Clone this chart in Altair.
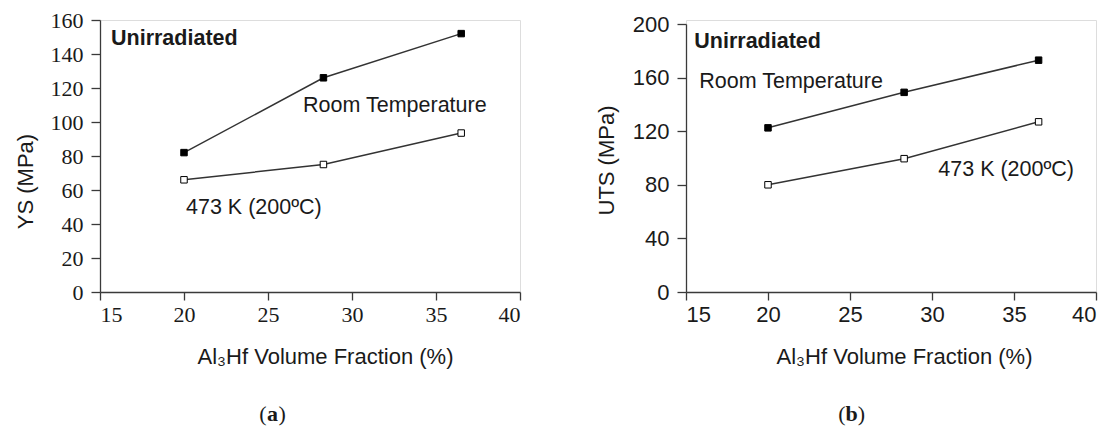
import altair as alt
import pandas as pd

# ---- data ----
vol_frac = [20, 28.3, 36.5]
ys_room = [82, 126, 152]
ys_473 = [66, 75, 93.5]
uts_room = [122.5, 149, 173]
uts_473 = [80, 99.5, 127]
series_names = ["Room Temperature", "473 K (200ºC)"]
x_ticks = [15, 20, 25, 30, 35, 40]
ys_ticks = [0, 20, 40, 60, 80, 100, 120, 140, 160]
uts_ticks = [0, 40, 80, 120, 160, 200]

SANS = "Liberation Sans"
SERIF = "Liberation Serif"
AX = "#3a3a3a"
TXT = "#1a1a1a"


def make_df(room, hot):
    rows = []
    for x, v in zip(vol_frac, room):
        rows.append({"x": x, "v": v, "s": series_names[0]})
    for x, v in zip(vol_frac, hot):
        rows.append({"x": x, "v": v, "s": series_names[1]})
    return pd.DataFrame(rows)


def text_layer(label, x, y, font=SANS, size=21.5, weight="normal", align="left"):
    return alt.Chart(pd.DataFrame({"t": [label]})).mark_text(
        font=font, fontSize=size, fontWeight=weight, align=align,
        baseline="alphabetic", color=TXT
    ).encode(x=alt.value(x), y=alt.value(y), text="t:N")


def panel(df, width, y_title, y_domain, y_range, y_ticks, tick_font, title_x_shift,
          ytitle_x, ytitle_y, annots, letter, letter_x):
    xenc = alt.X("x:Q", scale=alt.Scale(domain=[15, 40], nice=False),
                 axis=alt.Axis(values=x_ticks, title="Al₃Hf Volume Fraction (%)",
                               labelFont=tick_font, labelFontSize=22, labelColor=TXT,
                               tickSize=8, labelPadding=4, domainColor=AX, tickColor=AX,
                               domainWidth=1.3, tickWidth=1.3, grid=False,
                               titleFont=SANS, titleFontSize=22, titleFontWeight="normal",
                               titleColor=TXT, titleX=title_x_shift, titleY=71,
                               titleAlign="center", titleBaseline="alphabetic"))
    yenc = alt.Y("v:Q", scale=alt.Scale(domain=y_domain, range=y_range, nice=False),
                 axis=alt.Axis(values=y_ticks, title=y_title,
                               labelFont=tick_font, labelFontSize=22, labelColor=TXT,
                               tickSize=9, labelPadding=8, domainColor=AX, tickColor=AX,
                               domainWidth=1.3, tickWidth=1.3, grid=False,
                               titleFont=SANS, titleFontSize=22, titleFontWeight="normal",
                               titleColor=TXT, titleAngle=270, titleX=ytitle_x,
                               titleY=ytitle_y, titleAlign="center", titleBaseline="middle"))
    base = alt.Chart(df)
    lines = base.mark_line(color="#333333", strokeWidth=1.5).encode(
        x=xenc, y=yenc, detail="s:N")
    pts = base.mark_point(shape="square", size=42, filled=True, stroke="black",
                          strokeWidth=1, opacity=1).encode(
        x=xenc, y=yenc,
        fill=alt.Fill("s:N", scale=alt.Scale(domain=series_names, range=["black", "white"]),
                      legend=None))
    layers = [lines, pts]
    for a in annots:
        layers.append(text_layer(*a[:3], weight=a[3] if len(a) > 3 else "normal"))
    # panel letter: "(" + bold letter + ")"
    layers.append(text_layer("(", letter_x - 6, 401, font=SERIF, size=22, align="right"))
    layers.append(text_layer(letter, letter_x, 401, font=SERIF, size=22, weight="bold",
                             align="center"))
    layers.append(text_layer(")", letter_x + 6, 401, font=SERIF, size=22, align="left"))
    return alt.layer(*layers).properties(width=width, height=272)


df_a = make_df(ys_room, ys_473)
df_b = make_df(uts_room, uts_473)

chart_a = panel(df_a, 420, "YS (MPa)", [0, 160], [272, 0], ys_ticks, SERIF, 225,
                -75, 161,
                [("Unirradiated", 11, 24.5, "bold"),
                 ("Room Temperature", 203, 91.5),
                 ("473 K (200ºC)", 86, 194)],
                "a", 172.5)
chart_b = panel(df_b, 410, "UTS (MPa)", [0, 200], [272, 4], uts_ticks, SANS, 218,
                -80, 140,
                [("Unirradiated", 8.3, 28, "bold"),
                 ("Room Temperature", 13.3, 68),
                 ("473 K (200ºC)", 252.3, 155.5)],
                "b", 165.7)

chart = alt.hconcat(chart_a, chart_b, spacing=166, bounds="flush").properties(
    padding={"left": 5, "top": 0, "right": 0, "bottom": 0}
).configure_view(stroke=None).configure(background="white")

chart.save("out.html", embed_options={"renderer": "svg", "actions": False})
